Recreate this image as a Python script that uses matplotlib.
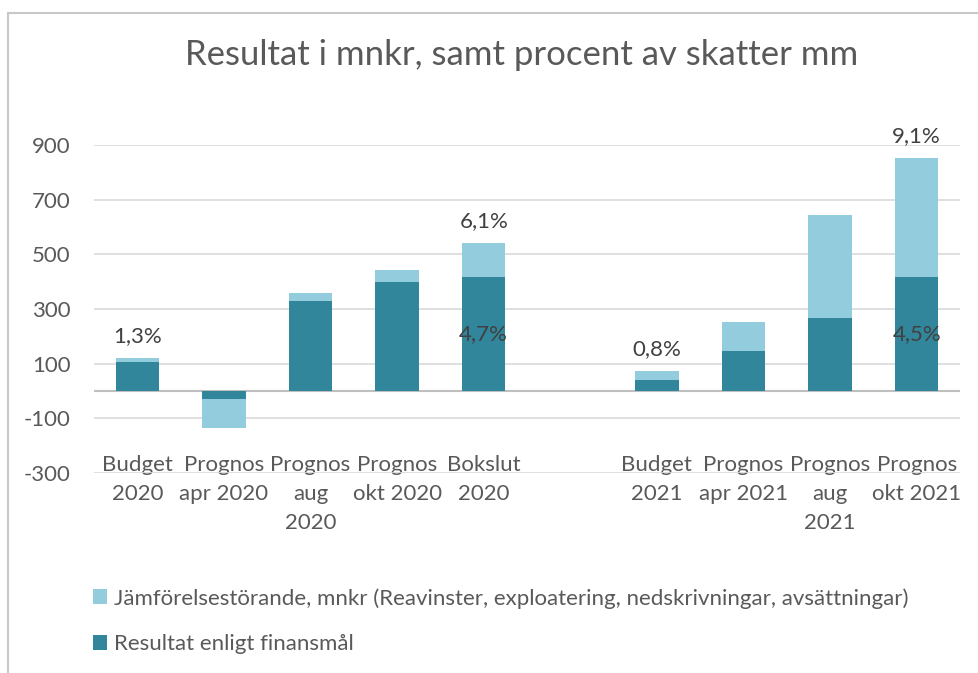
import numpy as np
import matplotlib
matplotlib.use("Agg")
import matplotlib.pyplot as plt
from matplotlib.lines import Line2D

plt.rcParams['font.family'] = ['Lato', 'DejaVu Sans']

# data (mnkr)
categories = ["Budget\n2020", "Prognos\napr 2020", "Prognos\naug\n2020", "Prognos\nokt 2020",
              "Bokslut\n2020", "", "Budget\n2021", "Prognos\napr 2021", "Prognos\naug\n2021",
              "Prognos\nokt 2021"]
resultat = [105, -30, 330, 400, 418, 0, 40, 147, 267, 418]
jamforelse = [15, -105, 28, 42, 124, 0, 33, 105, 377, 435]
top_labels = ["1,3%", "", "", "", "6,1%", "", "0,8%", "", "", "9,1%"]
inner_labels = ["", "", "", "", "4,7%", "", "", "", "", "4,5%"]
yticks = [-300, -100, 100, 300, 500, 700, 900]

dark = "#31869B"
light = "#93CDDD"
txt = "#595959"
fs = 16

W, H = 979, 673
fig = plt.figure(figsize=(W / 100, H / 100), dpi=100)
ax = fig.add_axes([94 / W, 1 - 473 / H, (960 - 94) / W, (473 - 145) / H])

x = np.arange(len(categories))
res = np.array(resultat)
jam = np.array(jamforelse)
ax.bar(x, res, width=0.5, color=dark, zorder=2, label="Resultat enligt finansmål")
ax.bar(x, jam, bottom=res, width=0.5, color=light, zorder=2,
       label="Jämförelsestörande, mnkr (Reavinster, exploatering, nedskrivningar, avsättningar)")

for i in range(len(categories)):
    if top_labels[i]:
        ax.annotate(top_labels[i], (x[i], res[i] + jam[i]), xytext=(0, 16), textcoords="offset points",
                    ha="center", va="center", fontsize=fs, color="#404040")
    if inner_labels[i]:
        ax.text(x[i], res[i] / 2, inner_labels[i], ha="center", va="center", fontsize=fs, color="#404040")

ax.set_xlim(-0.5, len(categories) - 0.5)
ax.set_ylim(-300, 900)
ax.set_yticks(yticks)
ax.set_yticklabels([str(v) for v in yticks])
ax.yaxis.grid(True, color="#D9D9D9", linewidth=1.2, zorder=0)
ax.axhline(0, color="#BFBFBF", linewidth=1.5, zorder=1)
ax.set_xticks(x)
ax.set_xticklabels(categories, linespacing=1.55)
ax.tick_params(axis="x", length=0, pad=-13, labelsize=fs, labelcolor=txt)
ax.tick_params(axis="y", length=0, pad=17, labelsize=fs, labelcolor=txt)
for s in ax.spines.values():
    s.set_visible(False)
ax.set_axisbelow(True)

fig.text(522 / W, 1 - 55 / H, "Resultat i mnkr, samt procent av skatter mm", ha="center", va="center",
         fontsize=25, color=txt)

# chart frame
fig.add_artist(Line2D([8 / W, 1], [1 - 13 / H, 1 - 13 / H], color="#C8C8C8", linewidth=1.5))
fig.add_artist(Line2D([8 / W, 8 / W], [0, 1 - 13 / H], color="#C8C8C8", linewidth=1.5))

h, l = ax.get_legend_handles_labels()
fig.legend(h[::-1], l[::-1], loc="upper left", bbox_to_anchor=(93 / W, 1 - 588 / H), frameon=False,
           fontsize=fs, labelcolor=txt, handlelength=0.65, handleheight=0.65, handletextpad=0.3,
           labelspacing=1.15, borderaxespad=0, borderpad=0)

fig.savefig("out.png", dpi=100)
